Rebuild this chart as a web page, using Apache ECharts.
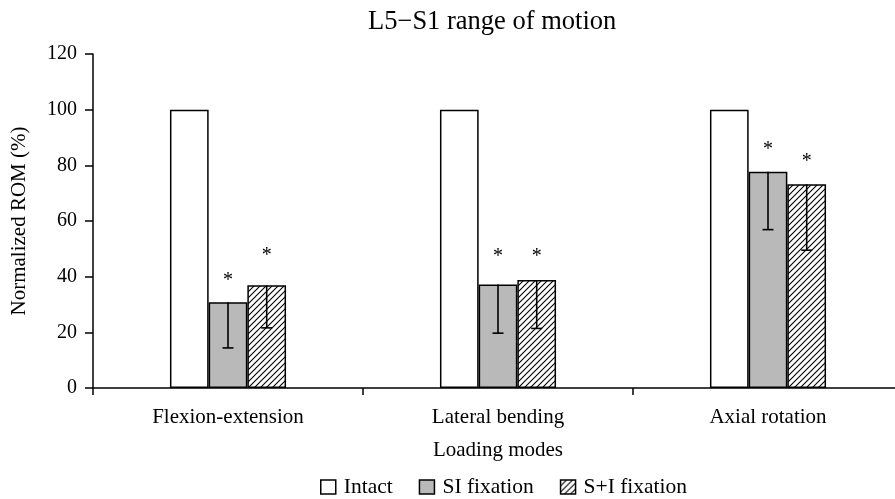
<!DOCTYPE html>
<html>
<head>
<meta charset="utf-8">
<script src="https://cdn.jsdelivr.net/npm/echarts@6/dist/echarts.min.js"></script>
<style>html,body{margin:0;padding:0;background:#fff;overflow:hidden}#c{width:903px;height:499px}</style>
</head>
<body>
<div id="c"></div>
<script>
const categories = ['Flexion-extension', 'Lateral bending', 'Axial rotation'];
const seriesNames = ['Intact', 'SI fixation', 'S+I fixation'];
const intactValues = [100, 100, 100];
const siValues = [30.8, 37.2, 77.7];
const siLower = [14.4, 19.7, 56.9];
const siStar = [40.5, 49.1, 87.3];
const spiValues = [36.9, 38.8, 73.2];
const spiLower = [21.6, 21.4, 49.5];
const spiStar = [49.2, 49.1, 83.1];
const yTicks = [0, 20, 40, 60, 80, 100, 120];

const FONT = "'Liberation Serif', 'Times New Roman', serif";

function hatch() {
  const s = 6;
  const c = document.createElement('canvas');
  c.width = s; c.height = s;
  const g = c.getContext('2d');
  g.fillStyle = '#fff';
  g.fillRect(0, 0, s, s);
  g.strokeStyle = '#000';
  g.lineWidth = 1.1;
  g.beginPath();
  g.moveTo(-1, s + 1); g.lineTo(s + 1, -1);
  g.moveTo(-1, 1); g.lineTo(1, -1);
  g.moveTo(s - 1, s + 1); g.lineTo(s + 1, s - 1);
  g.stroke();
  return { image: c, repeat: 'repeat' };
}
const hatchPattern = hatch();

const GAP = 0.57;
function errRender(params, api) {
  const k = api.value(4);
  const band = api.size([1, 0])[0];
  const bw = band * (1 - GAP) / 3;
  const x = api.value(0);
  const top = api.coord([x, api.value(1)]);
  const low = api.coord([x, api.value(2)]);
  const star = api.coord([x, api.value(3)]);
  const cx = top[0] + (k - 1) * bw;
  const cap = 5.5;
  return {
    type: 'group',
    children: [
      { type: 'line', shape: { x1: cx, y1: top[1], x2: cx, y2: low[1] }, style: { stroke: '#000', lineWidth: 1.6 } },
      { type: 'line', shape: { x1: cx - cap, y1: low[1], x2: cx + cap, y2: low[1] }, style: { stroke: '#000', lineWidth: 1.6 } },
      { type: 'text', x: cx, y: star[1] + 5, style: { text: '*', fill: '#000', font: '20px ' + FONT, align: 'center', verticalAlign: 'middle' } }
    ]
  };
}

function errData(vals, lows, stars, k) {
  return vals.map((v, i) => [i, v, lows[i], stars[i], k]);
}

const chart = echarts.init(document.getElementById('c'), null, { renderer: 'canvas' });
chart.setOption({
  backgroundColor: '#fff',
  animation: false,
  textStyle: { fontFamily: FONT, color: '#000' },
  title: {
    text: 'L5\u2212S1 range of motion',
    left: 363, top: 4,
    textStyle: { fontFamily: FONT, fontSize: 26.5, fontWeight: 'normal', color: '#000' }
  },
  legend: {
    data: seriesNames,
    left: 320, top: 476, padding: 0,
    itemWidth: 15, itemHeight: 14, itemGap: 26,
    icon: 'rect',
    textStyle: { fontFamily: FONT, fontSize: 21.5, color: '#000', padding: [0, 0, 0, 3] },
    itemStyle: { borderColor: '#000', borderWidth: 1.5 }
  },
  grid: { left: 93, right: 0, top: 54, bottom: 111, containLabel: false },
  xAxis: {
    type: 'category',
    data: categories,
    name: 'Loading modes',
    nameLocation: 'middle',
    nameGap: 52,
    nameTextStyle: { fontFamily: FONT, fontSize: 21, color: '#000' },
    axisLine: { lineStyle: { color: '#000', width: 1.5 } },
    axisTick: { show: true, length: 7, lineStyle: { color: '#000', width: 1.5 } },
    axisLabel: { fontFamily: FONT, fontSize: 21, color: '#000', margin: 19 }
  },
  yAxis: {
    type: 'value',
    min: yTicks[0], max: yTicks[yTicks.length - 1], interval: 20,
    name: 'Normalized ROM (%)',
    nameLocation: 'middle',
    nameGap: 63,
    nameTextStyle: { fontFamily: FONT, fontSize: 21, color: '#000' },
    axisLine: { show: true, lineStyle: { color: '#000', width: 1.5 } },
    axisTick: { show: true, length: 8, lineStyle: { color: '#000', width: 1.5 } },
    axisLabel: { fontFamily: FONT, fontSize: 20, color: '#000', margin: 16 },
    splitLine: { show: false }
  },
  series: [
    { name: seriesNames[0], type: 'bar', data: intactValues, barGap: 0, barCategoryGap: '57%',
      itemStyle: { color: '#fff', borderColor: '#000', borderWidth: 1.5 } },
    { name: seriesNames[1], type: 'bar', data: siValues,
      itemStyle: { color: '#b9b9b9', borderColor: '#000', borderWidth: 1.5 } },
    { name: seriesNames[2], type: 'bar', data: spiValues,
      itemStyle: { color: hatchPattern, borderColor: '#000', borderWidth: 1.5 } },
    { type: 'custom', renderItem: errRender, data: errData(siValues, siLower, siStar, 1), z: 5, encode: { x: 0, y: 1 } },
    { type: 'custom', renderItem: errRender, data: errData(spiValues, spiLower, spiStar, 2), z: 5, encode: { x: 0, y: 1 } }
  ]
});
</script>
</body>
</html>
